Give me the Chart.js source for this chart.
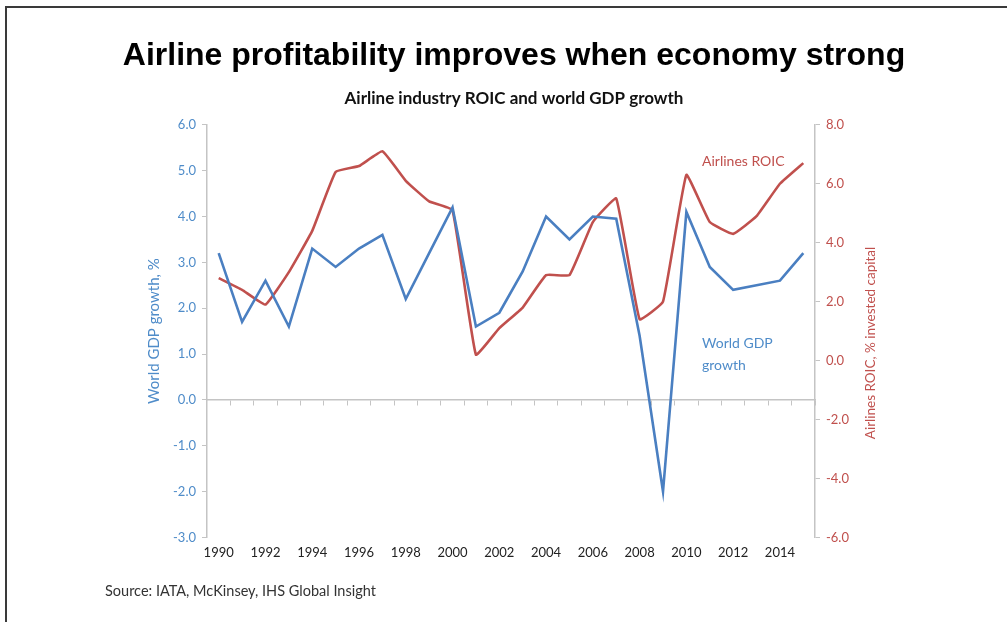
<!DOCTYPE html>
<html>
<head>
<meta charset="utf-8">
<script src="https://cdn.jsdelivr.net/npm/chart.js@4"></script>
<style>
  body { margin: 0; background: #fff; }
  #wrap { position: relative; width: 1007px; height: 622px; }
  #frame {
    position: absolute; left: 5px; top: 6px; right: 0; bottom: 0;
    border-top: 2px solid #3a3a3a; border-left: 2px solid #3a3a3a;
    pointer-events: none;
  }
  #source {
    position: absolute; left: 105px; top: 582px;
    font-family: Lato, sans-serif; font-size: 14.5px; color: #333;
  }
</style>
</head>
<body>
<div id="wrap">
  <canvas id="roicChart"></canvas>
  <div id="frame"></div>
  <div id="source">Source: IATA, McKinsey, IHS Global Insight</div>
</div>
<script>
// Data
const years = ['1990', '1991', '1992', '1993', '1994', '1995', '1996', '1997', '1998', '1999',
  '2000', '2001', '2002', '2003', '2004', '2005', '2006', '2007', '2008', '2009',
  '2010', '2011', '2012', '2013', '2014', '2015'];

// World GDP growth, % (left axis)
const gdpGrowth = [3.2, 1.7, 2.6, 1.6, 3.3, 2.9, 3.3, 3.6, 2.2, 3.2,
  4.2, 1.6, 1.9, 2.8, 4.0, 3.5, 4.0, 3.95, 1.4, -2.0,
  4.1, 2.9, 2.4, 2.5, 2.6, 3.2];

// Airlines ROIC, % invested capital (right axis)
const airlinesRoic = [2.8, 2.4, 1.9, 3.0, 4.4, 6.4, 6.6, 7.1, 6.1, 5.4,
  5.1, 0.2, 1.1, 1.8, 2.9, 2.9, 4.7, 5.5, 1.4, 2.0,
  6.3, 4.7, 4.3, 4.9, 6.0, 6.7];

const BLUE = '#4a7fc1';
const BLUE_TEXT = '#4f8cc9';
const RED = '#c0504d';
const AXIS = '#c4c4c4';
const FONT = 'Lato, "Open Sans", sans-serif';

// Extra text drawn on the canvas: series labels and right axis title
const textPlugin = {
  id: 'textPlugin',
  afterDraw(chart) {
    const ctx = chart.ctx;
    ctx.save();
    ctx.font = '14px ' + FONT;
    ctx.textBaseline = 'middle';
    ctx.textAlign = 'left';
    ctx.fillStyle = RED;
    ctx.fillText('Airlines ROIC', 702, 161);
    ctx.fillStyle = BLUE_TEXT;
    ctx.fillText('World GDP', 702, 343);
    ctx.fillText('growth', 702, 365);

    // right axis title reads bottom to top
    ctx.translate(871, 343);
    ctx.rotate(-Math.PI / 2);
    ctx.textAlign = 'center';
    ctx.fillStyle = RED;
    ctx.font = '13.5px ' + FONT;
    ctx.fillText('Airlines ROIC, % invested capital', 0, 0);
    ctx.restore();
  }
};

const ctx = document.getElementById('roicChart').getContext('2d');
new Chart(ctx, {
  type: 'line',
  data: {
    labels: years,
    datasets: [{
      label: 'World GDP growth',
      data: gdpGrowth,
      yAxisID: 'y',
      borderColor: BLUE,
      borderWidth: 2.6,
      pointRadius: 0,
      tension: 0
    }, {
      label: 'Airlines ROIC',
      data: airlinesRoic,
      yAxisID: 'y1',
      borderColor: RED,
      borderWidth: 2.6,
      pointRadius: 0,
      tension: 0.1
    }]
  },
  options: {
    responsive: true,
    maintainAspectRatio: false,
    animation: false,
    layout: {
      padding: { top: 30, left: 110, right: 89, bottom: 53 }
    },
    plugins: {
      legend: { display: false },
      tooltip: { enabled: false },
      title: {
        display: true,
        text: 'Airline profitability improves when economy strong',
        color: '#000',
        font: { family: '"Liberation Sans", Arial, sans-serif', size: 32, weight: 'bold' },
        padding: { top: 7, bottom: 10 }
      },
      subtitle: {
        display: true,
        text: 'Airline industry ROIC and world GDP growth',
        color: '#111',
        font: { family: FONT, size: 17, weight: 'bold' },
        padding: { top: 3, bottom: 16 }
      }
    },
    scales: {
      x: {
        type: 'category',
        offset: true,
        grid: { display: false, drawTicks: false },
        border: { display: false },
        ticks: {
          autoSkip: false,
          maxRotation: 0,
          padding: 8,
          color: '#222',
          font: { family: FONT, size: 13 },
          callback: function(value, index) {
            return index % 2 === 0 ? years[index] : '';
          }
        }
      },
      // zero line with tick marks, as in the original
      x2: {
        type: 'category',
        position: { y: 0 },
        offset: true,
        grid: { offset: true, drawOnChartArea: false, drawTicks: true, tickLength: 5, color: AXIS },
        border: { display: true, color: AXIS, width: 1.5 },
        ticks: { display: false }
      },
      y: {
        position: 'left',
        min: -3,
        max: 6,
        afterFit: function(scale) { scale.width = 97; },
        grid: { drawOnChartArea: false, tickLength: 5, color: AXIS },
        border: { color: AXIS, width: 1.5 },
        ticks: {
          stepSize: 1,
          padding: 6,
          color: BLUE_TEXT,
          font: { family: FONT, size: 13 },
          callback: function(value) { return value.toFixed(1); }
        },
        title: {
          display: true,
          text: 'World GDP growth, %',
          color: BLUE_TEXT,
          font: { family: FONT, size: 15 },
          padding: { top: 35, bottom: 0 }
        }
      },
      y1: {
        position: 'right',
        min: -6,
        max: 8,
        afterFit: function(scale) { scale.width = 103; },
        grid: { drawOnChartArea: false, tickLength: 5, color: AXIS },
        border: { color: AXIS, width: 1.5 },
        ticks: {
          stepSize: 2,
          padding: 6,
          color: RED,
          font: { family: FONT, size: 13 },
          callback: function(value) { return value.toFixed(1); }
        }
      }
    }
  },
  plugins: [textPlugin]
});
</script>
</body>
</html>
